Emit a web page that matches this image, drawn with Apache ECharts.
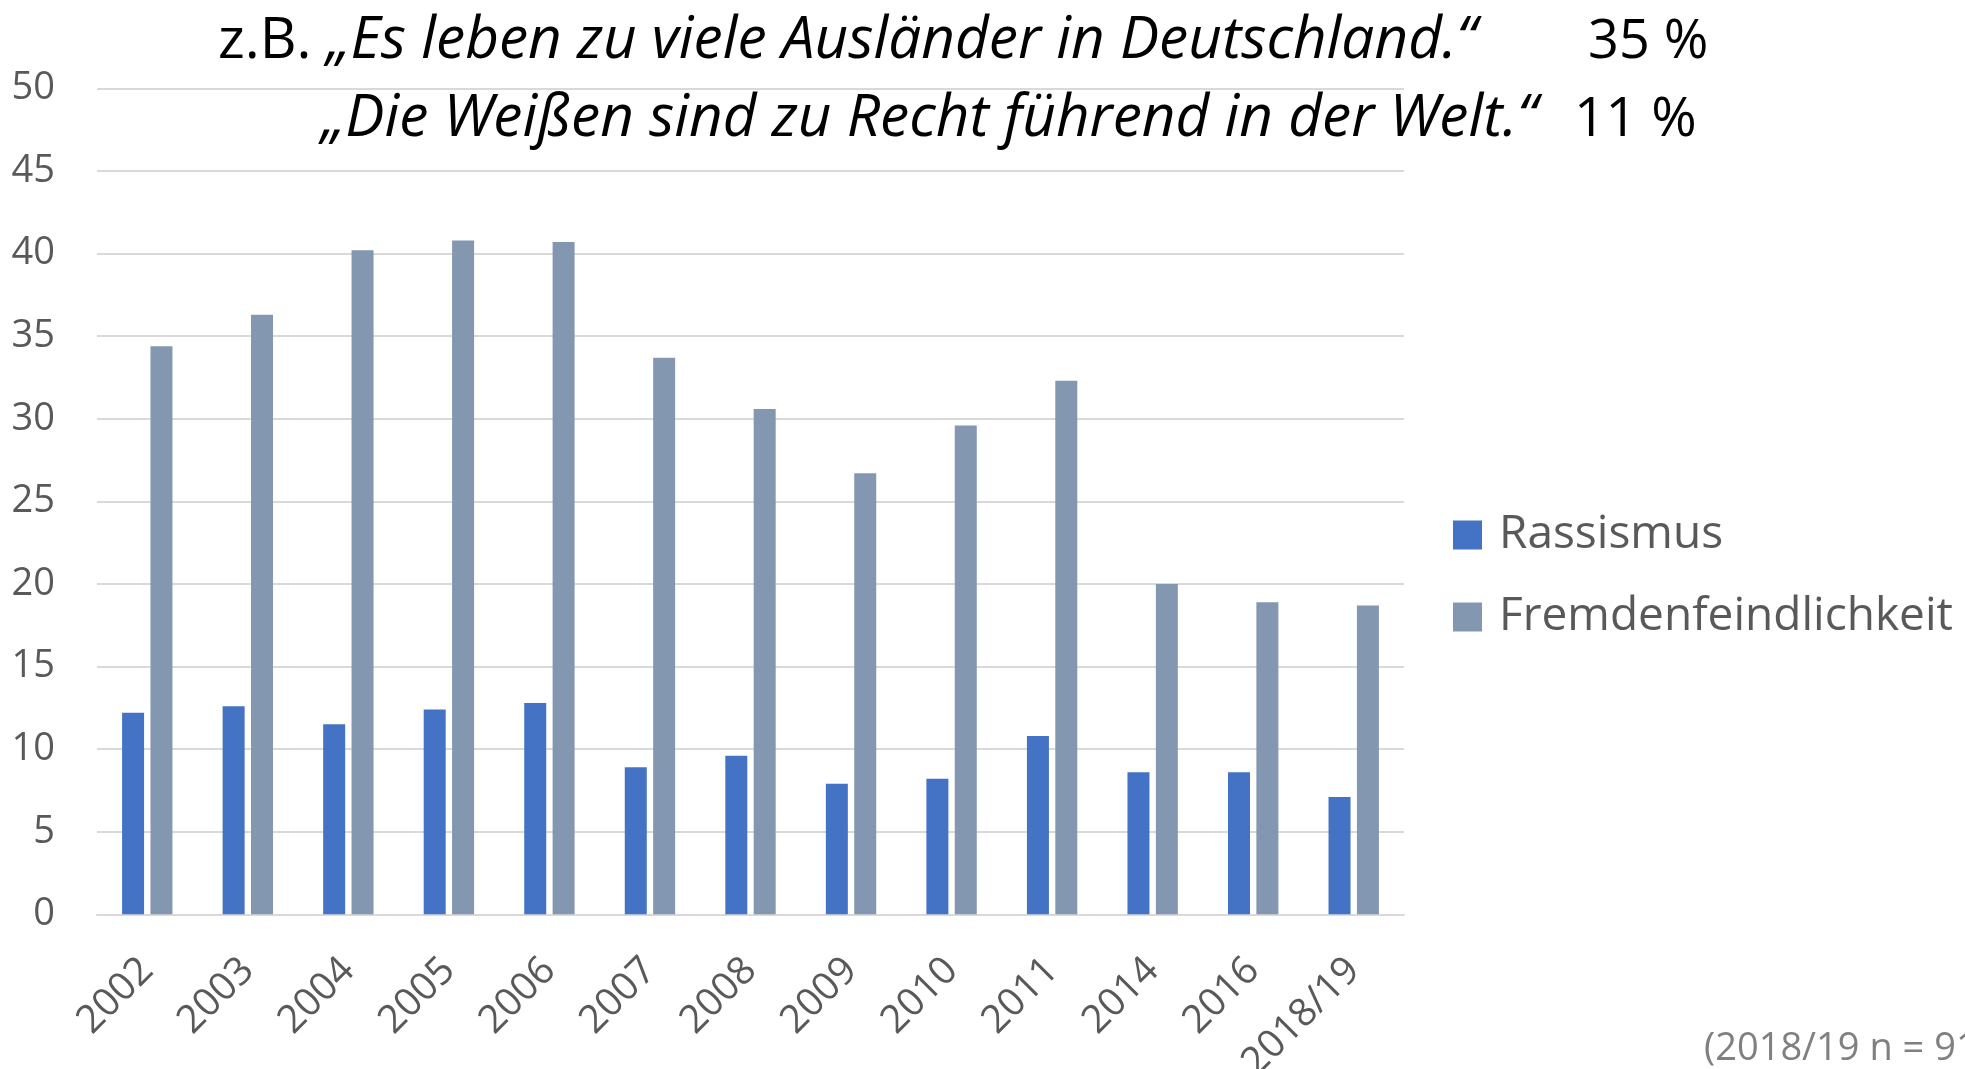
<!DOCTYPE html>
<html>
<head>
<meta charset="utf-8">
<style>
  html, body { margin: 0; padding: 0; background: #fff; }
  #bar-chart { width: 1965px; height: 1069px; }
</style>
<script src="https://cdn.jsdelivr.net/npm/echarts@6/dist/echarts.min.js"></script>
</head>
<body>
<div id="bar-chart"></div>
<script>
// Jahre der Befragung
var years = ['2002', '2003', '2004', '2005', '2006', '2007', '2008', '2009', '2010', '2011', '2014', '2016', '2018/19'];
// Zustimmung in Prozent
var rassismus = [12.2, 12.6, 11.5, 12.4, 12.8, 8.9, 9.6, 7.9, 8.2, 10.8, 8.6, 8.6, 7.1];
var fremdenfeindlichkeit = [34.4, 36.3, 40.2, 40.8, 40.7, 33.7, 30.6, 26.7, 29.6, 32.3, 20.0, 18.9, 18.7];
var yTicks = [0, 5, 10, 15, 20, 25, 30, 35, 40, 45, 50];

var font = '"Open Sans", "Noto Sans", sans-serif';
var grey = '#595959';

var chart = echarts.init(document.getElementById('bar-chart'));

var quote = { fontSize: 58.5, color: '#000', fontStyle: 'italic', fontWeight: 'normal', fontFamily: font };
var plain = { fontSize: 57, color: '#000', fontWeight: 'normal', fontFamily: font };

var option = {
  backgroundColor: '#fff',
  animation: false,
  textStyle: { fontFamily: font },
  title: [{
    text: '{n|z.B. }{i|„Es leben zu viele Ausländer in Deutschland.“}',
    left: 213,
    top: 7,
    textStyle: { rich: { n: plain, i: quote } }
  }, {
    text: '35 %',
    left: 1583,
    top: 11,
    textStyle: { fontSize: 54, color: '#000', fontWeight: 'normal', fontFamily: font }
  }, {
    text: '{i|„Die Weißen sind zu Recht führend in der Welt.“}',
    left: 316,
    top: 85,
    textStyle: { rich: { i: quote } }
  }, {
    text: '11 %',
    left: 1569,
    top: 88,
    textStyle: { fontSize: 55, color: '#000', fontWeight: 'normal', fontFamily: font }
  }],
  legend: {
    orient: 'vertical',
    left: 1448,
    top: 507,
    itemWidth: 29,
    itemHeight: 29,
    itemGap: 36,
    icon: 'rect',
    selectedMode: false,
    textStyle: { fontSize: 46, color: grey, padding: [0, 0, 0, 12] },
    data: ['Rassismus', 'Fremdenfeindlichkeit']
  },
  grid: {
    left: 97,
    right: 561,
    top: 88.5,
    bottom: 154.7,
    containLabel: false,
    outerBoundsMode: 'none'
  },
  xAxis: {
    type: 'category',
    data: years,
    axisLine: { show: true, lineStyle: { color: '#d9d9d9', width: 2 } },
    axisTick: { show: false },
    axisLabel: {
      rotate: 45,
      interval: 0,
      margin: 50,
      fontSize: 39,
      color: grey
    }
  },
  yAxis: {
    type: 'value',
    min: yTicks[0],
    max: yTicks[yTicks.length - 1],
    interval: 5,
    axisLine: { show: false },
    axisTick: { show: false },
    splitLine: { lineStyle: { color: '#d9d9d9', width: 2 } },
    axisLabel: {
      margin: 42,
      fontSize: 38,
      color: grey
    }
  },
  series: [{
    name: 'Rassismus',
    type: 'bar',
    data: rassismus,
    barWidth: 22,
    barGap: '29%',
    itemStyle: { color: '#4472C4' }
  }, {
    name: 'Fremdenfeindlichkeit',
    type: 'bar',
    data: fremdenfeindlichkeit,
    barWidth: 22,
    itemStyle: { color: '#8497B0' }
  }],
  graphic: [{
    type: 'text',
    left: 1704,
    top: 1030,
    style: {
      text: '(2018/19 n = 91',
      fontSize: 38,
      fontFamily: font,
      fill: '#808080'
    }
  }]
};

chart.setOption(option);
window.onresize = function () {
  chart.resize();
};
</script>
</body>
</html>
